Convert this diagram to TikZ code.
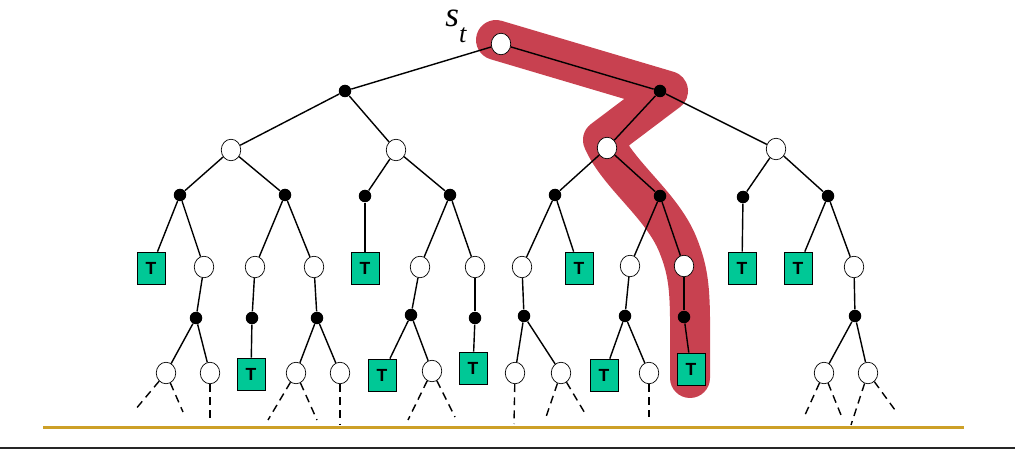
\documentclass[tikz,border=0pt]{standalone}
\usepackage{fontspec}
\usepackage{tikz}
\usetikzlibrary{shapes.geometric, positioning}
\newfontfamily\boxfont{Liberation Sans}
\newfontfamily\rootfont{Liberation Serif}
\definecolor{termcolor}{RGB}{0, 200, 150}
\definecolor{pathcolor}{RGB}{200, 65, 80}
\definecolor{rulecolor}{RGB}{205, 160, 40}

\begin{document}
\begin{tikzpicture}[
    x=0.02cm, y=-0.02cm,
    state/.style={draw, fill=white, ellipse, minimum width=0.39cm, minimum height=0.43cm, inner sep=0pt},
    chance/.style={fill=black, circle, minimum size=0.25cm, inner sep=0pt},
    terminal/.style={draw, fill=termcolor, minimum width=0.56cm, minimum height=0.64cm, inner sep=0pt, font=\boxfont\bfseries\fontsize{10}{12}\selectfont},
    link/.style={line width=0.8pt},
    future/.style={line width=0.8pt, dash pattern=on 4.5pt off 3pt}
]
    \useasboundingbox (0,0) rectangle (1015,449);

    % Highlighted path
    \draw[pathcolor, line width=0.8cm, line cap=round, line join=round]
        (496,40) -- (668,91) -- (603,140) .. controls (618,175) and (662,205) .. (678,245)
        .. controls (692,280) and (690,300) .. (690,378);

    % Root
    \node[state] (st) at (501,44) {};
    \node[anchor=base west, inner sep=0pt] (stlabel) at (445,27) {\rootfont\itshape\fontsize{20}{22}\selectfont s\raisebox{-9pt}{\fontsize{15}{18}\selectfont t}};

    % Level 1
    \node[chance] (a1) at (345,91) {};
    \node[chance] (a2) at (660,91) {};

    % Level 2
    \node[state] (b1) at (231,150) {};
    \node[state] (b2) at (396,150) {};
    \node[state] (b3) at (607,148) {};
    \node[state] (b4) at (776,149) {};

    % Level 3
    \node[chance] (c1) at (180,195) {};
    \node[chance] (c2) at (285,195) {};
    \node[chance] (c3) at (365,196) {};
    \node[chance] (c4) at (450,195) {};
    \node[chance] (c5) at (555,195) {};
    \node[chance] (c6) at (660,196) {};
    \node[chance] (c7) at (743,197) {};
    \node[chance] (c8) at (828,196) {};

    % Level 4
    \node[terminal] (t1) at (151,268) {T};
    \node[state] (e1) at (204,267) {};
    \node[state] (e2) at (255,267) {};
    \node[state] (e3) at (314,267) {};
    \node[terminal] (t2) at (365,268) {T};
    \node[state] (e4) at (420,267) {};
    \node[state] (e5) at (475,267) {};
    \node[state] (e6) at (522,267) {};
    \node[terminal] (t3) at (579,268) {T};
    \node[state] (e7) at (630,266) {};
    \node[state] (e8) at (684,266) {};
    \node[terminal] (t4) at (742,268) {T};
    \node[terminal] (t5) at (798,268) {T};
    \node[state] (e9) at (854,267) {};

    % Level 5
    \node[chance] (f1) at (196,318) {};
    \node[chance] (f2) at (252,318) {};
    \node[chance] (f3) at (317,318) {};
    \node[chance] (f4) at (411,315) {};
    \node[chance] (f5) at (475,318) {};
    \node[chance] (f6) at (524,316) {};
    \node[chance] (f7) at (625,316) {};
    \node[chance] (f8) at (684,317) {};
    \node[chance] (f9) at (855,316) {};

    % Level 6
    \node[state] (g1) at (166,373) {};
    \node[state] (g2) at (210,373) {};
    \node[terminal] (t6) at (251,374) {T};
    \node[state] (g3) at (296,373) {};
    \node[state] (g4) at (340,373) {};
    \node[terminal] (t7) at (382,375) {T};
    \node[state] (g5) at (432,371) {};
    \node[terminal] (t8) at (473,368) {T};
    \node[state] (g6) at (515,373) {};
    \node[state] (g7) at (561,373) {};
    \node[terminal] (t9) at (604,375) {T};
    \node[state] (g8) at (649,373) {};
    \node[terminal] (t10) at (691,369) {T};
    \node[state] (g9) at (824,373) {};
    \node[state] (g10) at (868,373) {};

    % Loose ends
    \coordinate (h1) at (135,410);
    \coordinate (h2) at (183,412);
    \coordinate (h3) at (210,418);
    \coordinate (h4) at (268,420);
    \coordinate (h5) at (317,420);
    \coordinate (h6) at (340,424);
    \coordinate (h7) at (408,420);
    \coordinate (h8) at (455,417);
    \coordinate (h9) at (514,424);
    \coordinate (h10) at (546,417);
    \coordinate (h11) at (586,415);
    \coordinate (h12) at (649,417);
    \coordinate (h13) at (805,415);
    \coordinate (h14) at (841,415);
    \coordinate (h15) at (851,425);
    \coordinate (h16) at (895,410);

    % Edges
    \draw[link] (st) -- (a1);
    \draw[link] (st) -- (a2);
    \draw[link] (a1) -- (b1);
    \draw[link] (a1) -- (b2);
    \draw[link] (a2) -- (b3);
    \draw[link] (a2) -- (b4);
    \draw[link] (b1) -- (c1);
    \draw[link] (b1) -- (c2);
    \draw[link] (b2) -- (c3);
    \draw[link] (b2) -- (c4);
    \draw[link] (b3) -- (c5);
    \draw[link] (b3) -- (c6);
    \draw[link] (b4) -- (c7);
    \draw[link] (b4) -- (c8);
    \draw[link] (c1) -- (t1);
    \draw[link] (c1) -- (e1);
    \draw[link] (c2) -- (e2);
    \draw[link] (c2) -- (e3);
    \draw[link] (c3) -- (t2);
    \draw[link] (c4) -- (e4);
    \draw[link] (c4) -- (e5);
    \draw[link] (c5) -- (e6);
    \draw[link] (c5) -- (t3);
    \draw[link] (c6) -- (e7);
    \draw[link] (c6) -- (e8);
    \draw[link] (c7) -- (t4);
    \draw[link] (c8) -- (t5);
    \draw[link] (c8) -- (e9);
    \draw[link] (e1) -- (f1);
    \draw[link] (e2) -- (f2);
    \draw[link] (e3) -- (f3);
    \draw[link] (e4) -- (f4);
    \draw[link] (e5) -- (f5);
    \draw[link] (e6) -- (f6);
    \draw[link] (e7) -- (f7);
    \draw[link] (e8) -- (f8);
    \draw[link] (e9) -- (f9);
    \draw[link] (f1) -- (g1);
    \draw[link] (f1) -- (g2);
    \draw[link] (f2) -- (t6);
    \draw[link] (f3) -- (g3);
    \draw[link] (f3) -- (g4);
    \draw[link] (f4) -- (t7);
    \draw[link] (f4) -- (g5);
    \draw[link] (f5) -- (t8);
    \draw[link] (f6) -- (g6);
    \draw[link] (f6) -- (g7);
    \draw[link] (f7) -- (t9);
    \draw[link] (f7) -- (g8);
    \draw[link] (f8) -- (t10);
    \draw[link] (f9) -- (g9);
    \draw[link] (f9) -- (g10);

    % Dashed continuations
    \draw[future] (g1) -- (h1);
    \draw[future] (g1) -- (h2);
    \draw[future] (g2) -- (h3);
    \draw[future] (g3) -- (h4);
    \draw[future] (g3) -- (h5);
    \draw[future] (g4) -- (h6);
    \draw[future] (g5) -- (h7);
    \draw[future] (g5) -- (h8);
    \draw[future] (g6) -- (h9);
    \draw[future] (g7) -- (h10);
    \draw[future] (g7) -- (h11);
    \draw[future] (g8) -- (h12);
    \draw[future] (g9) -- (h13);
    \draw[future] (g9) -- (h14);
    \draw[future] (g10) -- (h15);
    \draw[future] (g10) -- (h16);

    % Rules
    \draw[rulecolor, line width=1.3pt] (43,427.5) -- (964,427.5);
    \draw[black!85, line width=1pt] (0,448) -- (1015,448);

\end{tikzpicture}
\end{document}
